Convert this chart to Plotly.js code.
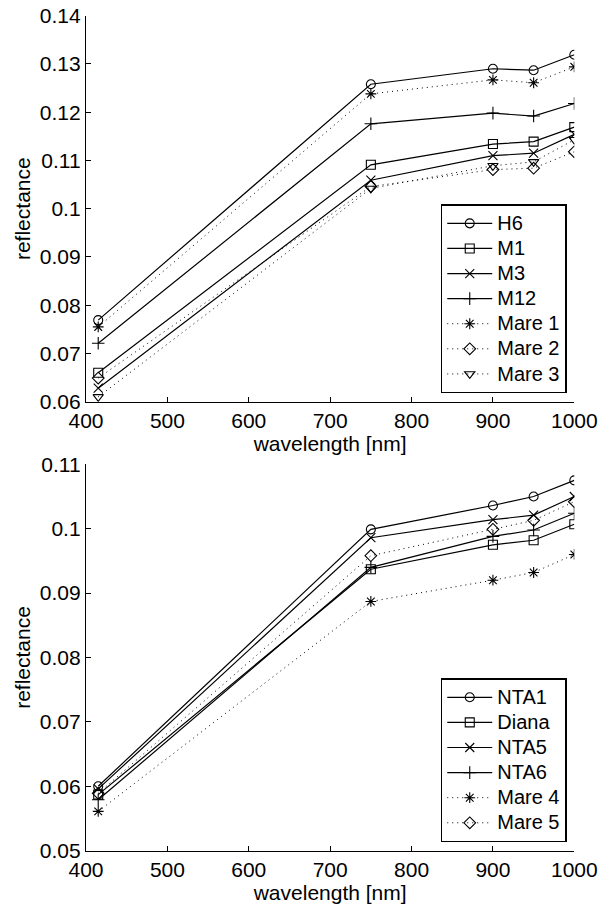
<!DOCTYPE html>
<html>
<head>
<meta charset="utf-8">
<script src="https://cdn.plot.ly/plotly-3.0.1.min.js"></script>
<style>
  html, body { margin: 0; padding: 0; background: #fff; }
  #chart { width: 601px; height: 907px; }
</style>
</head>
<body>
<div id="chart"></div>
<script>
// Wavelengths sampled (nm)
const wavelengths = [415, 750, 900, 950, 1000];

// Upper panel: highland / mare spectra
const topNames = ['H6', 'M1', 'M3', 'M12', 'Mare 1', 'Mare 2', 'Mare 3'];
const H6     = [0.0769, 0.1258, 0.1290, 0.1287, 0.1319];
const M1     = [0.0660, 0.1091, 0.1134, 0.1139, 0.1169];
const M3     = [0.0628, 0.1059, 0.1110, 0.1115, 0.1154];
const M12    = [0.0721, 0.1176, 0.1198, 0.1192, 0.1218];
const Mare1  = [0.0755, 0.1238, 0.1267, 0.1261, 0.1294];
const Mare2  = [0.0649, 0.1046, 0.1081, 0.1084, 0.1118];
const Mare3  = [0.0610, 0.1042, 0.1089, 0.1097, 0.1143];

// Lower panel
const bottomNames = ['NTA1', 'Diana', 'NTA5', 'NTA6', 'Mare 4', 'Mare 5'];
const NTA1   = [0.0600, 0.0999, 0.1036, 0.1050, 0.1075];
const Diana  = [0.0587, 0.0937, 0.0975, 0.0982, 0.1007];
const NTA5   = [0.0596, 0.0986, 0.1014, 0.1021, 0.1050];
const NTA6   = [0.0579, 0.0940, 0.0988, 0.0998, 0.1024];
const Mare4  = [0.0561, 0.0887, 0.0920, 0.0932, 0.0960];
const Mare5  = [0.0589, 0.0958, 0.0999, 0.1013, 0.1042];

// Tick labels
const xTickVals = [400, 500, 600, 700, 800, 900, 1000];
const xTickText = ['400', '500', '600', '700', '800', '900', '1000'];
const yTopVals  = [0.06, 0.07, 0.08, 0.09, 0.10, 0.11, 0.12, 0.13, 0.14];
const yTopText  = ['0.06', '0.07', '0.08', '0.09', '0.1', '0.11', '0.12', '0.13', '0.14'];
const yBotVals  = [0.05, 0.06, 0.07, 0.08, 0.09, 0.10, 0.11];
const yBotText  = ['0.05', '0.06', '0.07', '0.08', '0.09', '0.1', '0.11'];

const FONT = 'Liberation Sans, Arial, Helvetica, sans-serif';

function series(name, y, symbol, dotted, axisSuffix, legendId) {
  return {
    type: 'scatter',
    mode: 'lines+markers',
    x: wavelengths,
    y: y,
    name: '<span style="font-size:20px">' + name + '</span>',
    xaxis: 'x' + axisSuffix,
    yaxis: 'y' + axisSuffix,
    legend: legendId,
    line: { color: '#000', width: dotted ? 1 : 1.2, dash: dotted ? '1px,4px' : 'solid' },
    marker: { symbol: symbol, size: 9, color: '#000', line: { color: '#000', width: 1.1 } }
  };
}

const topData = [H6, M1, M3, M12, Mare1, Mare2, Mare3];
const topSymbols = ['circle-open', 'square-open', 'x-thin-open', 'cross-thin-open',
                    'asterisk-open', 'diamond-open', 'triangle-down-open'];
const topDotted = [false, false, false, false, true, true, true];

const botData = [NTA1, Diana, NTA5, NTA6, Mare4, Mare5];
const botSymbols = ['circle-open', 'square-open', 'x-thin-open', 'cross-thin-open',
                    'asterisk-open', 'diamond-open'];
const botDotted = [false, false, false, false, true, true];

const traces = [];
topNames.forEach((n, i) => traces.push(series(n, topData[i], topSymbols[i], topDotted[i], '', 'legend')));
bottomNames.forEach((n, i) => traces.push(series(n, botData[i], botSymbols[i], botDotted[i], '2', 'legend2')));

function xAxis(anchor) {
  return {
    domain: [0.1431, 0.9556],
    anchor: anchor,
    range: [400, 1000],
    tickvals: xTickVals,
    ticktext: xTickText,
    ticks: 'inside',
    ticklen: 5,
    tickwidth: 1,
    tickcolor: '#000',
    showline: true,
    linecolor: '#000',
    linewidth: 1.2,
    showgrid: false,
    zeroline: false,
    automargin: false,
    tickfont: { family: FONT, size: 21, color: '#000' },
    title: { text: 'wavelength [nm]', font: { family: FONT, size: 21, color: '#000' }, standoff: 0 }
  };
}

function yAxis(domain, range, vals, text, anchor) {
  return {
    domain: domain,
    anchor: anchor,
    range: range,
    tickvals: vals,
    ticktext: text,
    ticks: 'inside',
    ticklen: 5,
    tickwidth: 1,
    tickcolor: '#000',
    showline: true,
    linecolor: '#000',
    linewidth: 1.2,
    showgrid: false,
    zeroline: false,
    automargin: false,
    tickfont: { family: FONT, size: 21, color: '#000' },
    title: { text: 'reflectance', font: { family: FONT, size: 21, color: '#000' }, standoff: 3 }
  };
}

function legendBox(x, y) {
  return {
    x: x, y: y, xanchor: 'right', yanchor: 'bottom',
    xref: 'paper', yref: 'paper',
    bgcolor: '#fff',
    bordercolor: '#000',
    borderwidth: 1.5,
    itemwidth: 45,
    tracegroupgap: 0,
    font: { family: FONT, size: 17, color: '#000' }
  };
}

const layout = {
  width: 601,
  height: 907,
  margin: { l: 0, r: 0, t: 0, b: 0 },
  paper_bgcolor: '#fff',
  plot_bgcolor: '#fff',
  showlegend: true,
  font: { family: FONT, color: '#000' },
  xaxis: xAxis('y'),
  yaxis: yAxis([0.5571, 0.9827], [0.06, 0.14], yTopVals, yTopText, 'x'),
  xaxis2: xAxis('y2'),
  yaxis2: yAxis([0.0621, 0.4881], [0.05, 0.11], yBotVals, yBotText, 'x2'),
  legend: legendBox(0.943, 0.5664),
  legend2: legendBox(0.943, 0.0714)
};

Plotly.newPlot('chart', traces, layout, { staticPlot: true, displayModeBar: false });
</script>
</body>
</html>
